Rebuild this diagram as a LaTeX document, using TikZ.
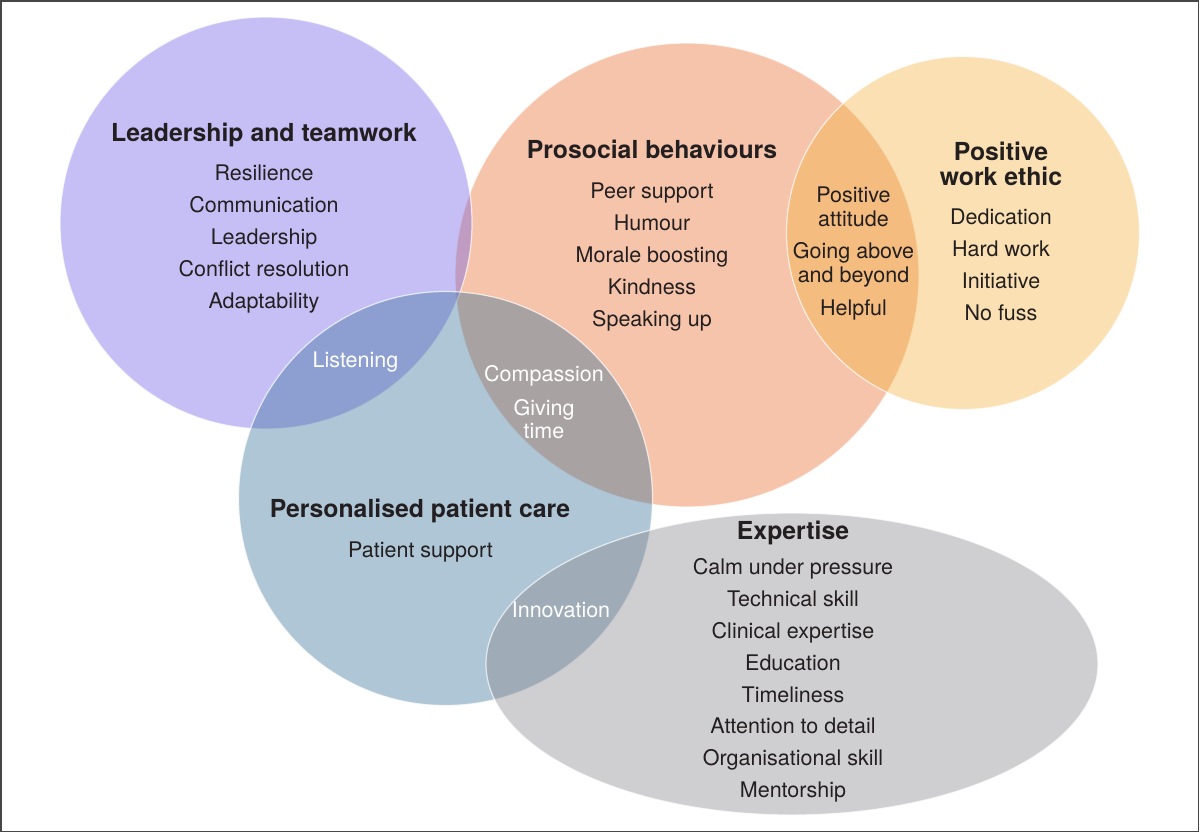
\documentclass[tikz,border=0pt]{standalone}
\usepackage{fontspec}
\setmainfont{TeX Gyre Heros}
\definecolor{cSal}{RGB}{233,108,45}
\definecolor{cPur}{RGB}{113,95,230}
\definecolor{cYel}{RGB}{243,178,63}
\definecolor{cBlu}{RGB}{55,113,153}
\definecolor{cGry}{RGB}{135,135,140}
\definecolor{ink}{RGB}{35,31,32}
\definecolor{framec}{RGB}{70,70,70}
\tikzset{
  region/.style={fill opacity=0.4},
  rim/.style={draw=white, draw opacity=0.7, line width=1.2pt},
  item/.style={anchor=base, text=ink, font=\fontsize{21.5}{24}\selectfont, inner sep=0pt},
  head/.style={anchor=base, text=ink, font=\bfseries\fontsize{24.8}{26}\selectfont, inner sep=0pt},
  wlabel/.style={item, text=white},
}
\begin{document}
\begin{tikzpicture}[x=1pt,y=-1pt]
\useasboundingbox (0,0) rectangle (1200,833);
\fill[white] (0,0) rectangle (1200,833);
% regions
\fill[cSal, region] (687,275) circle[radius=232pt];
\draw[rim] (687,275) circle[radius=232pt];
\fill[cPur, region] (266,223) circle[radius=206pt];
\draw[rim] (266,223) circle[radius=206pt];
\fill[cYel, region] (963,233) circle[radius=176.5pt];
\draw[rim] (963,233) circle[radius=176.5pt];
\fill[cBlu, region] (445.5,498.5) circle[radius=207pt];
\draw[rim] (445.5,498.5) circle[radius=207pt];
\fill[cGry, region] (792,664) ellipse[x radius=306pt, y radius=151pt];
\draw[rim] (792,664) ellipse[x radius=306pt, y radius=151pt];
% frame
\draw[framec, line width=1.6pt] (1,1) rectangle (1198.5,831.5);
% Leadership and teamwork
\node[head] (lt) at (264,141) {Leadership and teamwork};
\node[item] (lt1) at (264,180) {Resilience};
\node[item] (lt2) at (264,212) {Communication};
\node[item] (lt3) at (264,244) {Leadership};
\node[item] (lt4) at (264,276) {Conflict resolution};
\node[item] (lt5) at (264,308) {Adaptability};
\node[wlabel] (lis) at (355.5,367) {Listening};
% Prosocial behaviours
\node[head] (pb) at (652,158) {Prosocial behaviours};
\node[item] (pb1) at (652,198) {Peer support};
\node[item] (pb2) at (652,230) {Humour};
\node[item] (pb3) at (652,262) {Morale boosting};
\node[item] (pb4) at (652,294) {Kindness};
\node[item] (pb5) at (652,326) {Speaking up};
% overlap prosocial / work ethic
\node[item] (ov1) at (853.5,202) {Positive};
\node[item] (ov2) at (853.5,226) {attitude};
\node[item] (ov3) at (853.5,258) {Going above};
\node[item] (ov4) at (853.5,282.5) {and beyond};
\node[item] (ov5) at (853.5,315) {Helpful};
% Positive work ethic
\node[head] (we) at (1001,160) {Positive};
\node[head] (we0) at (1001,185) {work ethic};
\node[item] (we1) at (1001,224) {Dedication};
\node[item] (we2) at (1001,256) {Hard work};
\node[item] (we3) at (1001,288) {Initiative};
\node[item] (we4) at (1001,320) {No fuss};
% overlap prosocial / patient care
\node[wlabel] (cp1) at (544,381.7) {Compassion};
\node[wlabel] (cp2) at (544,415) {Giving};
\node[wlabel] (cp3) at (544,438.5) {time};
% Personalised patient care
\node[head] (pc) at (420,517) {Personalised patient care};
\node[item] (pc1) at (420.5,557) {Patient support};
\node[wlabel] (inn) at (561,617.5) {Innovation};
% Expertise
\node[head] (ex) at (793,539) {Expertise};
\node[item] (ex1) at (793,574) {Calm under pressure};
\node[item] (ex2) at (793,606) {Technical skill};
\node[item] (ex3) at (793,638) {Clinical expertise};
\node[item] (ex4) at (793,670) {Education};
\node[item] (ex5) at (793,702) {Timeliness};
\node[item] (ex6) at (793,733.5) {Attention to detail};
\node[item] (ex7) at (793,765) {Organisational skill};
\node[item] (ex8) at (793,797) {Mentorship};
\end{tikzpicture}
\end{document}
